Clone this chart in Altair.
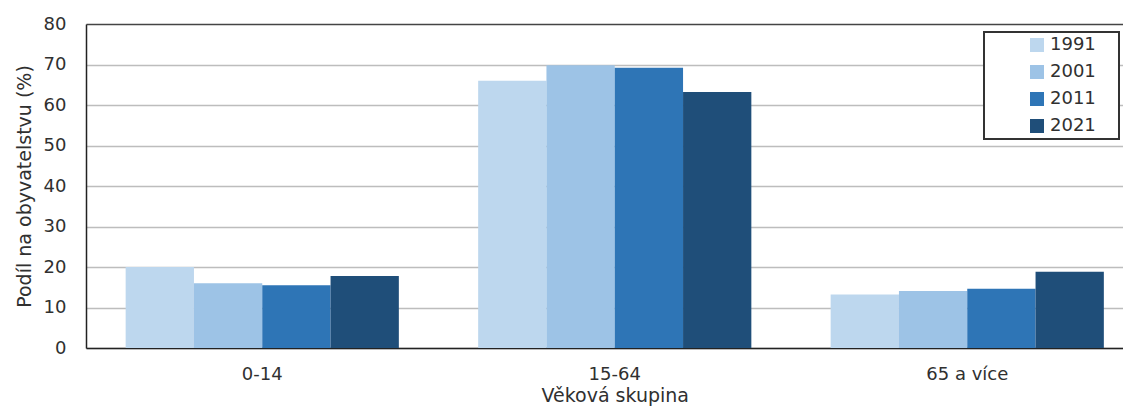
import altair as alt
import pandas as pd

groups = ["0-14", "15-64", "65 a více"]
years = ["1991", "2001", "2011", "2021"]
v1991 = [20.0, 66.0, 13.2]
v2001 = [16.0, 69.8, 14.1]
v2011 = [15.5, 69.2, 14.6]
v2021 = [17.8, 63.2, 18.8]
colors = ["#BDD7EE", "#9DC3E6", "#2E75B6", "#1F4E79"]

rows = []
for yr, vals in zip(years, [v1991, v2001, v2011, v2021]):
    for g, v in zip(groups, vals):
        rows.append({"group": g, "year": yr, "value": v})
df = pd.DataFrame(rows)

FONT = "DejaVu Sans"
TXT = "#303030"

chart = alt.Chart(df).mark_bar().encode(
    x=alt.X("group:N", sort=groups,
            scale=alt.Scale(paddingInner=0.225, paddingOuter=0.1125, range=[0, 1057.5]),
            axis=alt.Axis(title="Věková skupina", labelAngle=0, ticks=False,
                          labelPadding=17, titlePadding=3, grid=False,
                          domainColor="#222222", domainWidth=1.5)),
    xOffset=alt.XOffset("year:N", sort=years,
                        scale=alt.Scale(paddingInner=0, paddingOuter=0)),
    y=alt.Y("value:Q", scale=alt.Scale(domain=[0, 80], nice=False),
            axis=alt.Axis(title="Podíl na obyvatelstvu (%)", values=list(range(0, 81, 10)),
                          ticks=False, labelPadding=20, titlePadding=9,
                          domainColor="#222222", domainWidth=1.5,
                          gridColor=alt.condition(alt.datum.value == 80,
                                                  alt.value("#444444"), alt.value("#BDBDBD")),
                          gridWidth=1.5)),
    color=alt.Color("year:N", sort=years,
                    scale=alt.Scale(domain=years, range=colors),
                    legend=alt.Legend(title=".", titleOrient="right", titlePadding=16,
                                      titleFontSize=8, titleColor="white",
                                      orient="none", legendX=898, legendY=8,
                                      symbolType="square", symbolSize=196,
                                      symbolStrokeWidth=0, symbolOffset=40,
                                      rowPadding=9, padding=4,
                                      strokeColor="#333333", fillColor="white")),
).properties(
    width=1037, height=324,
    autosize=alt.AutoSizeParams(type="none"),
    padding={"left": 78, "top": 16, "right": 0, "bottom": 60},
).configure_view(
    stroke=None
).configure_axis(
    labelFont=FONT, titleFont=FONT, labelFontSize=18, titleFontSize=19,
    labelColor=TXT, titleColor=TXT, titleFontWeight="normal"
).configure_legend(
    labelFont=FONT, labelFontSize=18, labelColor=TXT, strokeWidth=2
)

chart.save("out.html", embed_options={"renderer": "svg", "actions": False})
